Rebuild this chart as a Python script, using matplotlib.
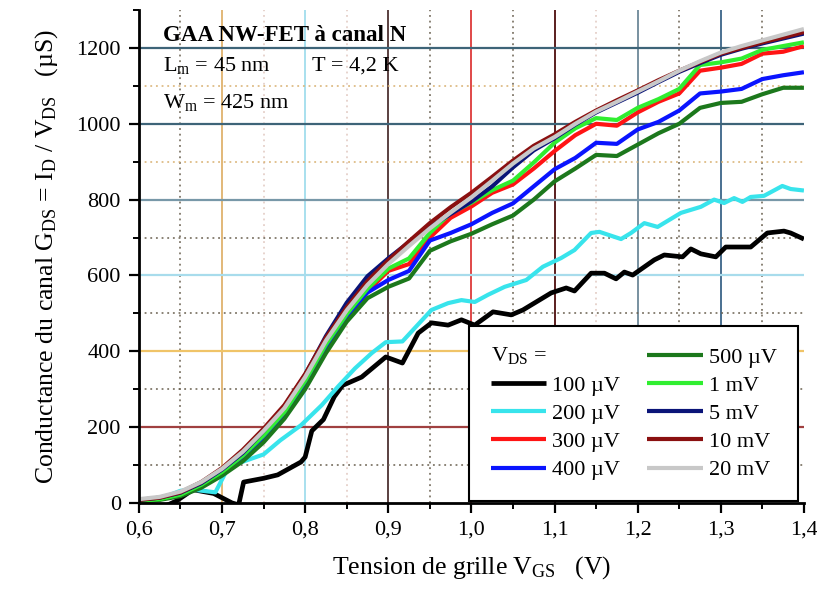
import numpy as np
import matplotlib
matplotlib.use("Agg")
import matplotlib.pyplot as plt
from matplotlib.lines import Line2D
from matplotlib.ticker import MultipleLocator, FuncFormatter

plt.rcParams['font.family'] = ['Liberation Serif', 'DejaVu Serif']
plt.rcParams['mathtext.fontset'] = 'custom'
plt.rcParams['mathtext.rm'] = 'Liberation Serif'
plt.rcParams['mathtext.it'] = 'Liberation Serif:italic'
plt.rcParams['mathtext.bf'] = 'Liberation Serif:bold'

# Tension de grille (V)
vgs = [0.600, 0.625, 0.650, 0.675, 0.700, 0.725, 0.750, 0.775, 0.800, 0.825, 0.850,
       0.875, 0.900, 0.925, 0.950, 0.975, 1.000, 1.025, 1.050, 1.075, 1.100, 1.125,
       1.150, 1.175, 1.200, 1.225, 1.250, 1.275, 1.300, 1.325, 1.350, 1.375, 1.400]

# Conductance (uS) pour chaque VDS
g_300uV = [5, 10, 22, 45, 80, 122, 174, 236, 318, 412, 492, 558, 612, 630, 700, 752, 782,
           818, 840, 882, 928, 970, 1000, 995, 1030, 1058, 1080, 1140, 1148, 1158, 1185, 1190, 1205]
g_400uV = [5, 10, 21, 44, 77, 117, 168, 230, 312, 408, 492, 555, 588, 612, 692, 712, 735,
           765, 790, 835, 880, 910, 950, 947, 985, 1005, 1035, 1080, 1085, 1092, 1118, 1128, 1136]
g_500uV = [3, 8, 18, 40, 72, 110, 160, 222, 300, 395, 478, 540, 570, 592, 665, 690, 710,
           735, 758, 800, 848, 882, 918, 915, 945, 975, 1000, 1042, 1055, 1058, 1078, 1095, 1095]
g_1mV = [5, 10, 22, 48, 82, 125, 178, 240, 322, 418, 498, 565, 618, 645, 712, 765, 792,
         825, 850, 898, 950, 988, 1015, 1010, 1042, 1065, 1092, 1155, 1162, 1172, 1195, 1205, 1215]
g_5mV = [8, 14, 27, 52, 88, 132, 190, 255, 338, 440, 528, 598, 645, 688, 728, 762, 795,
         835, 885, 930, 962, 998, 1030, 1056, 1082, 1110, 1137, 1160, 1182, 1198, 1212, 1225, 1238]
g_10mV = [8, 14, 28, 55, 92, 140, 196, 258, 340, 436, 516, 585, 640, 690, 738, 780, 818,
          860, 903, 942, 972, 1005, 1035, 1062, 1088, 1115, 1140, 1163, 1185, 1200, 1215, 1228, 1242]
g_20mV = [10, 16, 30, 55, 90, 135, 190, 250, 332, 428, 508, 575, 630, 678, 724, 766, 806,
          850, 895, 935, 965, 1000, 1032, 1058, 1085, 1112, 1140, 1165, 1188, 1205, 1220, 1235, 1250]

# 100 uV et 200 uV : plus bruités, points propres
vgs_100uV = [0.600, 0.630, 0.645, 0.665, 0.690, 0.712, 0.720, 0.726, 0.750, 0.767, 0.795,
             0.800, 0.808, 0.822, 0.835, 0.845, 0.868, 0.897, 0.917, 0.936, 0.952, 0.972,
             0.988, 1.004, 1.026, 1.048, 1.062, 1.096, 1.114, 1.124, 1.144, 1.160, 1.174,
             1.184, 1.194, 1.220, 1.232, 1.254, 1.264, 1.276, 1.294, 1.306, 1.336, 1.356,
             1.376, 1.384, 1.400]
g_100uV = [-30, -10, 5, 35, 25, 0, -5, 55, 65, 74, 108, 121, 190, 220, 280, 310, 332, 385,
           369, 448, 475, 469, 483, 469, 504, 496, 509, 554, 567, 559, 606, 606, 591, 609,
           601, 641, 654, 649, 670, 657, 649, 675, 675, 712, 717, 712, 696]

vgs_200uV = [0.600, 0.630, 0.650, 0.665, 0.692, 0.709, 0.720, 0.750, 0.770, 0.795, 0.820,
             0.840, 0.860, 0.880, 0.897, 0.917, 0.933, 0.952, 0.972, 0.988, 1.004, 1.020,
             1.040, 1.066, 1.086, 1.108, 1.124, 1.144, 1.154, 1.180, 1.192, 1.208, 1.224,
             1.252, 1.276, 1.292, 1.304, 1.316, 1.326, 1.336, 1.352, 1.374, 1.384, 1.400]
g_200uV = [5, 15, 32, 35, 28, 100, 105, 128, 165, 205, 258, 308, 355, 395, 424, 426, 464,
           509, 527, 535, 530, 549, 570, 588, 623, 646, 667, 712, 715, 696, 712, 738, 728,
           765, 781, 800, 791, 804, 794, 807, 810, 836, 828, 824]

labels = ['100 µV', '200 µV', '300 µV', '400 µV', '500 µV',
          '1 mV', '5 mV', '10 mV', '20 mV']
colors = ['#000000', '#38e4ec', '#ff1414', '#0a14ff', '#1c781c',
          '#30ee30', '#0a1478', '#8a1010', '#c8c8c8']

series = [(vgs_100uV, g_100uV), (vgs_200uV, g_200uV), (vgs, g_300uV), (vgs, g_400uV),
          (vgs, g_500uV), (vgs, g_1mV), (vgs, g_5mV), (vgs, g_10mV), (vgs, g_20mV)]

fig = plt.figure(figsize=(8.17, 5.91), dpi=100)
ax = fig.add_axes([0.170, 0.149, 0.814, 0.834])

# grille colorée comme dans l'original
vgrid = {0.7: '#e2b878', 0.8: '#a8e0ee', 0.9: '#5a4040', 1.0: '#e04848',
         1.1: '#5a1e1e', 1.2: '#7890a0', 1.3: '#4a7090'}
for xv, c in vgrid.items():
    ax.axvline(xv, color=c, lw=1.4, zorder=1)
for xv in [0.65, 0.95, 1.05, 1.25, 1.35]:
    ax.axvline(xv, color='#6a6050', lw=1.1, ls=(0, (1.2, 2.5)), zorder=1)
for xv in [0.75, 0.85, 1.15]:
    ax.axvline(xv, color='#e0c8c0', lw=1.1, ls=(0, (1.2, 2.5)), zorder=1)

hgrid = {200: '#a04040', 400: '#f0c468', 600: '#a8dcec', 800: '#7898a8',
         1000: '#3e6478', 1200: '#3e6478'}
for yv, c in hgrid.items():
    ax.axhline(yv, color=c, lw=1.6, zorder=1)
for yv in [100, 300, 500, 700]:
    ax.axhline(yv, color='#6a6050', lw=1.1, ls=(0, (1.2, 2.5)), zorder=1)
for yv in [900, 1100]:
    ax.axhline(yv, color='#d8b070', lw=1.1, ls=(0, (1.2, 2.5)), zorder=1)

for (xs, ys), lab, c in zip(series, labels, colors):
    lw = 3.4 if c == '#000000' else 3.0
    ax.plot(xs, ys, color=c, lw=lw, label=lab, zorder=3, solid_capstyle='butt')

ax.set_xlim(0.6, 1.4)
ax.set_ylim(0, 1300)
ax.xaxis.set_major_locator(MultipleLocator(0.1))
ax.xaxis.set_minor_locator(MultipleLocator(0.05))
ax.yaxis.set_major_locator(MultipleLocator(200))
ax.yaxis.set_minor_locator(MultipleLocator(100))
ax.xaxis.set_major_formatter(FuncFormatter(lambda v, p: f"{v:.1f}".replace('.', ',')))

for s in ['top', 'right']:
    ax.spines[s].set_visible(False)
for s in ['left', 'bottom']:
    ax.spines[s].set_linewidth(2.0)
    ax.spines[s].set_zorder(5)
ax.tick_params(which='major', direction='out', length=7, width=1.6, labelsize=16, pad=6)
ax.tick_params(which='minor', direction='out', length=4, width=1.4)

ax.set_xlabel(r'Tension de grille V$_\mathrm{GS}$   (V)', fontsize=18.5, labelpad=10)
ax.set_ylabel(r'Conductance du canal G$_\mathrm{DS}$ = I$_\mathrm{D}$ / V$_\mathrm{DS}$   (µS)',
              fontsize=18.5, labelpad=12)

ax.text(0.629, 1232, 'GAA NW-FET à canal N', fontsize=16.5, fontweight='bold', va='center', zorder=6)
ax.text(0.629, 1153, r'L$_\mathrm{m}$ = 45 nm', fontsize=16, va='center', zorder=6)
ax.text(0.808, 1153, 'T = 4,2 K', fontsize=16, va='center', zorder=6)
ax.text(0.629, 1055, r'W$_\mathrm{m}$ = 425 nm', fontsize=16, va='center', zorder=6)

handles, labs = ax.get_legend_handles_labels()
dummy = Line2D([], [], color='none')
leg = ax.legend([dummy] + handles, [' '] + labs, ncol=2, loc='lower right',
                bbox_to_anchor=(0.991, 0.003), borderaxespad=0, fontsize=16,
                handlelength=2.5, handletextpad=0.28, columnspacing=1.2,
                labelspacing=0.34, borderpad=0.95, fancybox=False, framealpha=1)
leg.get_frame().set_edgecolor('black')
leg.get_frame().set_linewidth(1.5)
leg.set_zorder(7)

fig.canvas.draw()
bb = leg.get_lines()[0].get_window_extent(fig.canvas.get_renderer())
fig.text(bb.x0 / fig.bbox.width, (bb.y0 + bb.y1) / 2 / fig.bbox.height,
         r'V$_\mathrm{DS}$ =', fontsize=16, va='center', ha='left', zorder=8)

fig.savefig('out.png', dpi=100)
